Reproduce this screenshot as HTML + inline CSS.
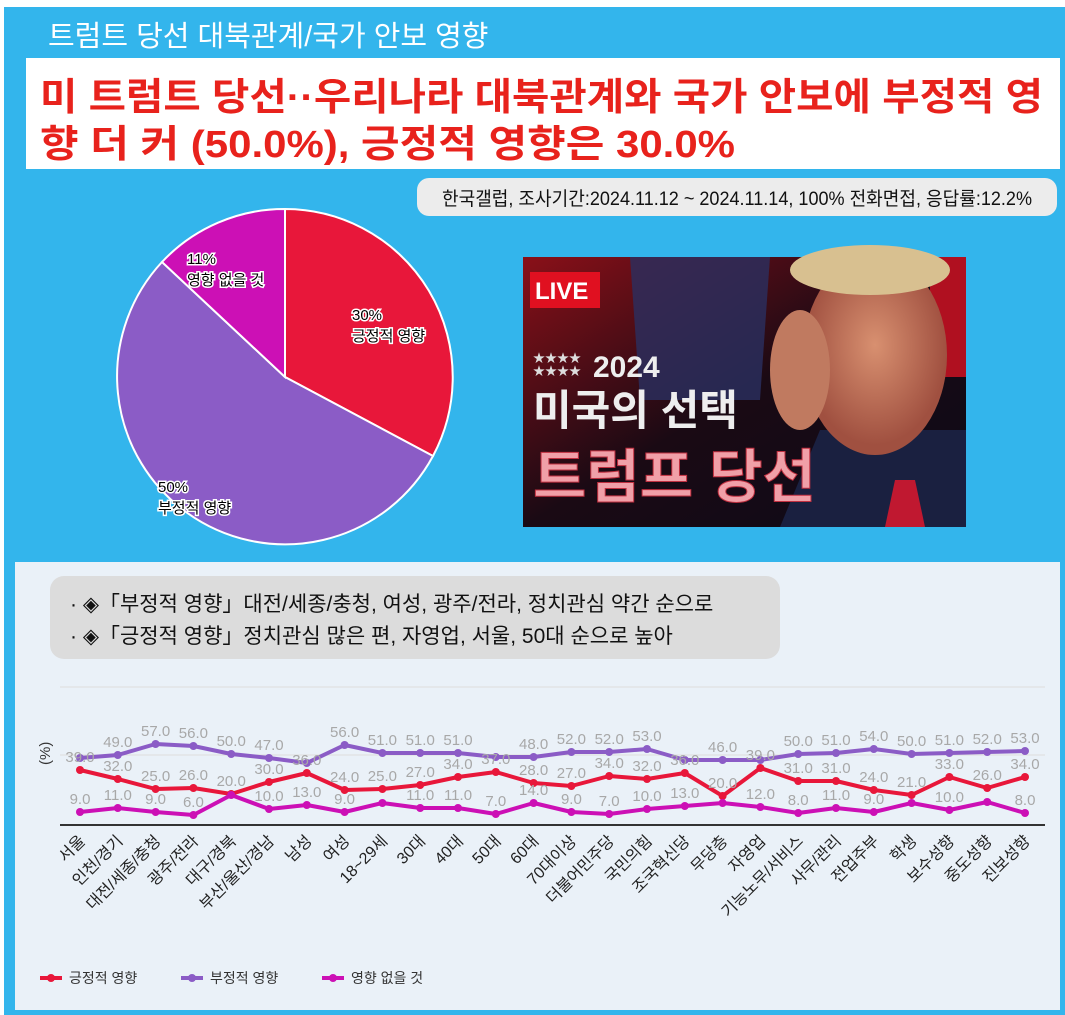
<!DOCTYPE html>
<html><head><meta charset="utf-8">
<style>
html,body{margin:0;padding:0;background:#fff;width:1065px;height:1015px;overflow:hidden}
svg text{font-family:"Liberation Sans","Noto Sans CJK KR",sans-serif}
</style></head><body>
<svg id="s" width="1065" height="1015" xmlns="http://www.w3.org/2000/svg">
<rect x="4" y="7" width="1061" height="1008" fill="#33b5ec"/>
<text x="48" y="46" font-size="29" fill="#fff" font-family="'Noto Serif CJK SC','Noto Sans CJK KR',serif">트럼트 당선 대북관계/국가 안보 영향</text>
<rect x="26" y="58" width="1034" height="111" fill="#fff"/>
<text x="40" y="110" font-size="38" font-weight="bold" fill="#e8221c" textLength="1003" lengthAdjust="spacingAndGlyphs">미 트럼트 당선··우리나라 대북관계와 국가 안보에 부정적 영</text>
<text x="40" y="157" font-size="38" font-weight="bold" fill="#e8221c" textLength="695" lengthAdjust="spacingAndGlyphs">향 더 커 (50.0%), 긍정적 영향은 30.0%</text>
<rect x="417" y="178" width="640" height="38" rx="12" fill="#ececec"/>
<text x="442" y="205" font-size="19" fill="#111" textLength="590" lengthAdjust="spacingAndGlyphs">한국갤럽, 조사기간:2024.11.12 ~ 2024.11.14, 100% 전화면접, 응답률:12.2%</text>
<g stroke="#fff" stroke-width="2">
<path d="M285,377 L285,209 A168,168 0 0 1 433,456 Z" fill="#e8173a"/>
<path d="M285,377 L433,456 A168,168 0 1 1 162,262 Z" fill="#8b5cc6"/>
<path d="M285,377 L162,262 A168,168 0 0 1 285,209 Z" fill="#cc10b5"/>
</g>
<g font-size="15" fill="#000" stroke="#fff" stroke-width="3" paint-order="stroke">
<text x="187" y="264">11%</text><text x="187" y="285">영향 없을 것</text>
<text x="352" y="320">30%</text><text x="352" y="341">긍정적 영향</text>
<text x="158" y="492">50%</text><text x="158" y="513">부정적 영향</text>
</g>
<defs><linearGradient id="bg" x1="0" y1="0" x2="1" y2="1"><stop offset="0" stop-color="#8a1018"/><stop offset="0.5" stop-color="#1a0a14"/><stop offset="1" stop-color="#0c0a18"/></linearGradient>
<radialGradient id="face" cx="0.5" cy="0.45" r="0.5"><stop offset="0" stop-color="#d89070"/><stop offset="1" stop-color="#a05040"/></radialGradient></defs>
<rect x="523" y="257" width="443" height="270" fill="url(#bg)"/>
<rect x="930" y="257" width="36" height="120" fill="#b01020"/>
<path d="M630,257 L770,257 L760,400 L640,400 Z" fill="#2a3060" opacity="0.8"/>
<path d="M820,430 L966,430 L966,527 L780,527 Z" fill="#1a2040"/>
<path d="M895,480 L915,480 L925,527 L885,527 Z" fill="#c01830"/>
<ellipse cx="875" cy="355" rx="72" ry="100" fill="url(#face)"/>
<ellipse cx="870" cy="270" rx="80" ry="25" fill="#d8c090"/>
<ellipse cx="800" cy="370" rx="30" ry="60" fill="#c07a60"/>
<rect x="530" y="272" width="70" height="36" fill="#e01020"/>
<text x="535" y="299" font-size="24" font-weight="bold" fill="#fff">LIVE</text>
<text x="593" y="377" font-size="30" font-weight="bold" fill="#eee">2024</text>
<text x="533" y="375" font-size="12" fill="#ddd">★★★★</text>
<text x="533" y="362" font-size="12" fill="#ddd">★★★★</text>
<text x="533" y="425" font-size="42" font-weight="bold" fill="#eee">미국의 선택</text>
<text x="533" y="497" font-size="58" font-weight="bold" fill="#f0a0a8" stroke="#c03040" stroke-width="1">트럼프 당선</text>
<rect x="15" y="562" width="1045" height="448" fill="#eaf1f8"/>
<rect x="50" y="576" width="730" height="83" rx="14" fill="#dcdcdc"/>
<g font-size="21" fill="#111">
<text x="70" y="611">· ◈「부정적 영향」대전/세종/충청, 여성, 광주/전라, 정치관심 약간 순으로</text>
<text x="70" y="643">· ◈「긍정적 영향」정치관심 많은 편, 자영업, 서울, 50대 순으로 높아</text>
</g>
<line x1="60" y1="687" x2="1045" y2="687" stroke="#ddd"/>
<line x1="60" y1="755" x2="1045" y2="755" stroke="#ddd"/>
<line x1="60" y1="825" x2="1045" y2="825" stroke="#333" stroke-width="2"/>
<text transform="translate(50,765) rotate(-90)" font-size="15" fill="#333">(%)</text>
<g id="chart"></g>
<g font-size="14" fill="#333">
<line x1="40" y1="978" x2="62" y2="978" stroke="#e8173a" stroke-width="4"/><circle cx="51" cy="978" r="4" fill="#e8173a"/>
<text x="69" y="983">긍정적 영향</text>
<line x1="181" y1="978" x2="203" y2="978" stroke="#8b5cc6" stroke-width="4"/><circle cx="192" cy="978" r="4" fill="#8b5cc6"/>
<text x="210" y="983">부정적 영향</text>
<line x1="322" y1="978" x2="344" y2="978" stroke="#cc10b5" stroke-width="4"/><circle cx="333" cy="978" r="4" fill="#cc10b5"/>
<text x="351" y="983">영향 없을 것</text>
</g>
</svg>
<script>
var cats=["서울","인천/경기","대전/세종/충청","광주/전라","대구/경북","부산/울산/경남","남성","여성","18~29세","30대","40대","50대","60대","70대이상","더불어민주당","국민의힘","조국혁신당","무당층","자영업","기능노무/서비스","사무/관리","전업주부","학생","보수성향","중도성향","진보성향"];
var P=[758,755,744,746,754,758,763,745,753,753,753,757,757,752,752,749,760,760,760,754,753,749,754,753,752,751];
var R=[770,779,789,788,794,782,773,790,789,785,777,772,783,786,776,779,773,796,768,781,781,790,795,777,788,777];
var M=[812,808,812,815,795,809,805,812,803,808,808,814,803,812,814,809,806,803,807,813,808,812,803,810,802,813];
var PL=[null,49,57,56,50,47,null,56,51,51,51,null,48,52,52,53,null,46,null,50,51,54,50,51,52,53];
var RL=[39,32,25,26,20,30,36,24,25,27,34,37,28,27,34,32,36,20,39,31,31,24,21,33,26,34];
var ML=[9,11,9,6,null,10,13,9,null,11,11,7,14,9,7,10,13,null,12,8,11,9,null,10,null,8];
function X(i){return 80+i*37.8;}
var h="";
[[P,"#8b5cc6"],[R,"#e8173a"],[M,"#cc10b5"]].forEach(function(s){
 var d=s[0].map(function(y,i){return (i?"L":"M")+X(i).toFixed(1)+","+y}).join("");
 h+='<path d="'+d+'" fill="none" stroke="'+s[1]+'" stroke-width="4" stroke-linejoin="round"/>';
 s[0].forEach(function(y,i){h+='<circle cx="'+X(i)+'" cy="'+y+'" r="4" fill="'+s[1]+'"/>';});
});
[[P,PL],[R,RL],[M,ML]].forEach(function(s){
 s[1].forEach(function(v,i){if(v!==null)h+='<text x="'+X(i)+'" y="'+(s[0][i]-8)+'" font-size="15" fill="#a8a8a8" text-anchor="middle">'+v.toFixed(1)+'</text>';});
});
cats.forEach(function(c,i){h+='<text transform="translate('+(X(i)+6)+',842) rotate(-45)" font-size="16" fill="#222" text-anchor="end">'+c+'</text>';});
document.getElementById("chart").innerHTML=h;
</script>
</body></html>
